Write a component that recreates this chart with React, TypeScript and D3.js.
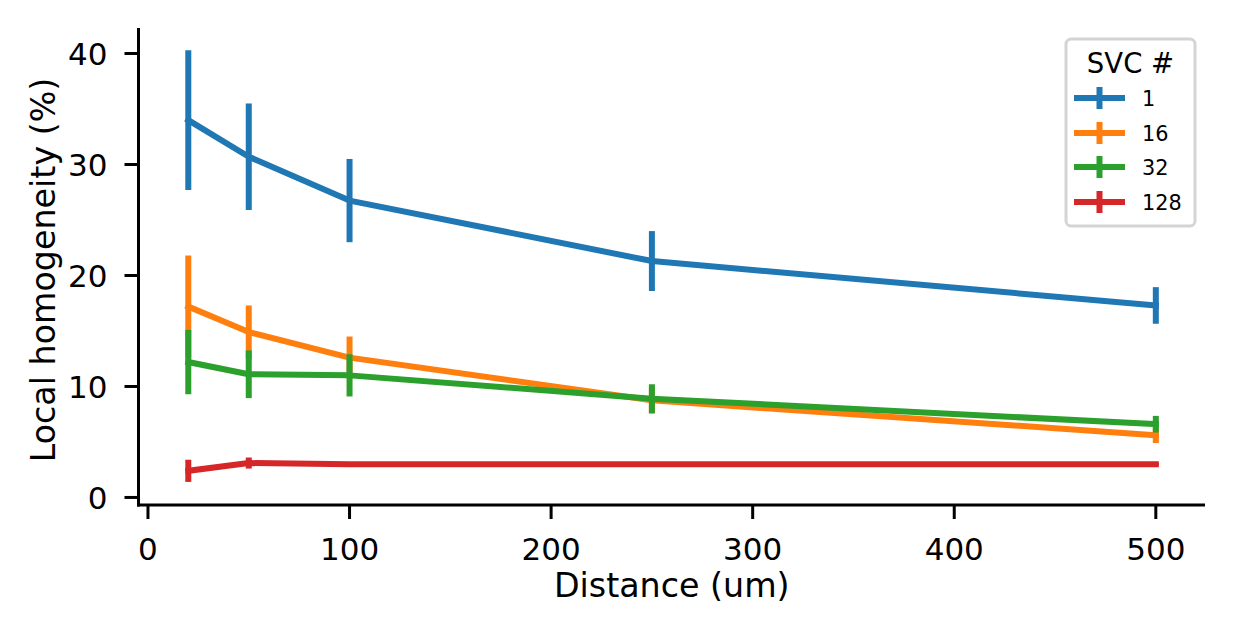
import React from "react";
import * as d3 from "d3";

// distances sampled (um)
const distances = [20, 50, 100, 250, 500];

// SVC count for each series
const svcLabels = ["1", "16", "32", "128"];
const svcColors = ["#1f77b4", "#ff7f0e", "#2ca02c", "#d62728"];

// mean local homogeneity (%) per SVC count
const means1 = [34.0, 30.7, 26.75, 21.3, 17.3];
const means16 = [17.2, 14.9, 12.6, 8.75, 5.6];
const means32 = [12.2, 11.1, 11.0, 8.9, 6.6];
const means128 = [2.4, 3.1, 3.0, 3.0, 3.0];

// error bar half-lengths
const errs1 = [6.3, 4.8, 3.75, 2.7, 1.65];
const errs16 = [4.6, 2.4, 1.9, 1.2, 0.7];
const errs32 = [2.9, 2.15, 1.9, 1.3, 0.75];
const errs128 = [1.0, 0.5, 0.1, 0.1, 0.1];

const xTicks = [0, 100, 200, 300, 400, 500];
const yTicks = [0, 10, 20, 30, 40];

const W = 1234;
const H = 634;
const plot = { left: 138.5, right: 1205, top: 28, bottom: 505 };
const FONT = "DejaVu Sans, sans-serif";
const TICK_FS = 31;
const LABEL_FS = 33.3;

export default function App() {
  const x = d3.scaleLinear().domain([-4.7, 524.4]).range([plot.left, plot.right]);
  const y = d3.scaleLinear().domain([-0.68, 42.3]).range([plot.bottom, plot.top]);

  const series = [
    { label: svcLabels[0], color: svcColors[0], means: means1, errs: errs1 },
    { label: svcLabels[1], color: svcColors[1], means: means16, errs: errs16 },
    { label: svcLabels[2], color: svcColors[2], means: means32, errs: errs32 },
    { label: svcLabels[3], color: svcColors[3], means: means128, errs: errs128 },
  ];

  const line = d3
    .line<number>()
    .x((_, i) => x(distances[i]))
    .y((d) => y(d));

  const lw = 6;
  const legend = { x0: 1066, y0: 39, w: 129, h: 187 };
  const rowY = [98, 133, 167, 202];

  return (
    <svg
      width={W}
      height={H}
      style={{ position: "absolute", left: 0, top: 0, background: "#fff" }}
      fontFamily={FONT}
    >
      {/* series: error bars then mean line */}
      {series.map((s) => (
        <g key={s.label}>
          {s.means.map((m, i) => (
            <line
              key={i}
              x1={x(distances[i])}
              x2={x(distances[i])}
              y1={y(m - s.errs[i])}
              y2={y(m + s.errs[i])}
              stroke={s.color}
              strokeWidth={lw}
            />
          ))}
          <path
            d={line(s.means) ?? ""}
            fill="none"
            stroke={s.color}
            strokeWidth={lw}
            strokeLinejoin="round"
            strokeLinecap="square"
          />
        </g>
      ))}

      {/* spines */}
      <line x1={plot.left} x2={plot.left} y1={plot.top} y2={plot.bottom + 1.5} stroke="#000" strokeWidth={3} />
      <line x1={plot.left - 1.5} x2={plot.right} y1={plot.bottom} y2={plot.bottom} stroke="#000" strokeWidth={3} />

      {/* x axis */}
      {xTicks.map((t) => (
        <g key={t} transform={`translate(${x(t)},${plot.bottom})`}>
          <line y1={0} y2={14} stroke="#000" strokeWidth={3} />
          <text y={55} textAnchor="middle" fontSize={TICK_FS}>
            {t}
          </text>
        </g>
      ))}
      <text x={(plot.left + plot.right) / 2} y={597} textAnchor="middle" fontSize={LABEL_FS}>
        Distance (um)
      </text>

      {/* y axis */}
      {yTicks.map((t) => (
        <g key={t} transform={`translate(${plot.left},${y(t)})`}>
          <line x1={0} x2={-14} stroke="#000" strokeWidth={3} />
          <text x={-31} dy="0.36em" textAnchor="end" fontSize={TICK_FS}>
            {t}
          </text>
        </g>
      ))}
      <text
        transform={`translate(55,270) rotate(-90)`}
        textAnchor="middle"
        fontSize={LABEL_FS}
      >
        Local homogeneity (%)
      </text>

      {/* legend */}
      <rect
        x={legend.x0}
        y={legend.y0}
        width={legend.w}
        height={legend.h}
        rx={5}
        fill="#fff"
        fillOpacity={0.8}
        stroke="#d4d4d4"
        strokeWidth={3}
      />
      <text x={legend.x0 + legend.w / 2} y={73} textAnchor="middle" fontSize={27.5}>
        SVC #
      </text>
      {series.map((s, i) => (
        <g key={s.label} transform={`translate(0,${rowY[i]})`}>
          <line x1={1074} x2={1125} stroke={s.color} strokeWidth={lw} />
          <line x1={1099.5} x2={1099.5} y1={-11} y2={11} stroke={s.color} strokeWidth={lw} />
          <text x={1142} dy="0.36em" fontSize={20.8}>
            {s.label}
          </text>
        </g>
      ))}
    </svg>
  );
}
